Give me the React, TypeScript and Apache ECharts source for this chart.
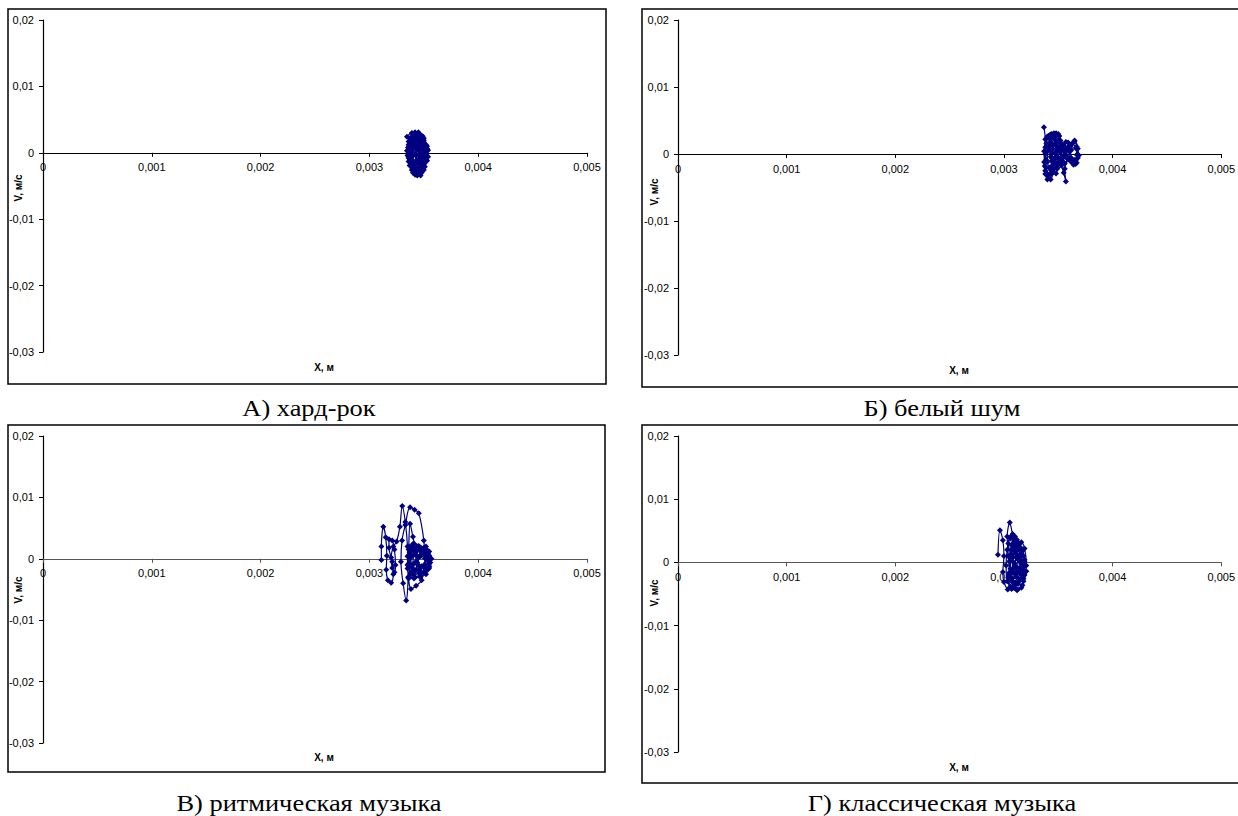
import React, { useEffect, useRef } from "react";
import * as echarts from "echarts";

// Tick labels
const X_TICK_LABELS = ["0", "0,001", "0,002", "0,003", "0,004", "0,005"];
const Y_TICK_LABELS = ["-0,03", "-0,02", "-0,01", "0", "0,01", "0,02"];

const PANEL_TITLES = ["А) хард-рок", "Б) белый шум", "В) ритмическая музыка", "Г) классическая музыка"];
const X_NAME = "X, м";
const Y_NAME = "V, м/с";

// Phase trajectories [x (m), v (m/s)]
const hardRock: number[][] = [
  [0.003345, 0.0024], [0.00339, 0.003], [0.00344, 0.0028], [0.0035, 0.0019], [0.00353, 0.0006],
  [0.00352, -0.001], [0.00348, -0.0024], [0.00343, -0.0031], [0.00339, -0.0022], [0.00336, -0.0008],
  [0.003355, 0.0008], [0.00338, 0.0021], [0.00343, 0.0026], [0.00348, 0.0021], [0.00351, 0.0009],
  [0.003515, -0.0005], [0.00349, -0.0018], [0.00345, -0.0027], [0.00341, -0.0029], [0.00338, -0.0016],
  [0.00337, 0.0001], [0.00339, 0.0015], [0.00342, 0.0031], [0.00347, 0.0027], [0.0035, 0.0015],
  [0.00354, 0.0004], [0.00353, -0.0012], [0.0035, -0.0026], [0.00347, -0.0034], [0.00343, -0.0025],
  [0.0034, -0.0012], [0.00338, 0.0004], [0.0034, 0.0018], [0.00344, 0.0022], [0.00347, 0.0014],
  [0.00349, 0.0001], [0.00348, -0.0013], [0.00346, -0.0021], [0.00342, -0.0018], [0.00339, -0.0006],
  [0.003385, 0.001], [0.00341, 0.0024], [0.00345, 0.0029], [0.00349, 0.0025], [0.00352, 0.0012],
  [0.00352, -0.0003], [0.0035, -0.0016], [0.00346, -0.003], [0.00342, -0.0033], [0.00339, -0.0026],
  [0.00336, -0.0013], [0.003345, 0.0003], [0.00336, 0.0017], [0.0034, 0.0027], [0.00345, 0.0024],
  [0.00349, 0.0008], [0.0035, -0.0007], [0.00347, -0.0019], [0.00343, -0.0023], [0.0034, -0.0014],
  [0.00339, 0.0], [0.00341, 0.0012], [0.00344, 0.0017], [0.00347, 0.001], [0.00348, -0.0004],
  [0.00341, 0.002], [0.00344, 0.0011], [0.00346, -0.0002], [0.00344, -0.0015], [0.00341, -0.0022],
  [0.00338, -0.001], [0.00339, 0.0006], [0.00342, 0.0016], [0.00346, 0.0019], [0.00349, 0.0013],
  [0.0035, 0.0002], [0.00349, -0.0009], [0.00346, -0.0016], [0.00343, -0.0012], [0.00342, -0.0001],
  [0.00343, 0.0009], [0.00346, 0.0012], [0.00348, 0.0005], [0.00347, -0.0006], [0.00345, -0.001],
  [0.00343, -0.0004], [0.00344, 0.0005], [0.00337, 0.0022], [0.0034, 0.0029], [0.00345, 0.0031],
  [0.0035, 0.0022], [0.00353, 0.001], [0.00354, -0.0006], [0.00351, -0.0021], [0.00348, -0.003],
  [0.00344, -0.0034], [0.0034, -0.003], [0.00337, -0.0019], [0.00335, -0.0004], [0.00336, 0.0012],
  [0.00339, 0.0023], [0.00342, 0.002], [0.00345, 0.0015], [0.00348, 0.0017], [0.00351, 0.0006],
  [0.00351, -0.0008], [0.00348, -0.002], [0.00345, -0.0024], [0.00341, -0.002], [0.0034, -0.0004],
  [0.00342, 0.0007], [0.00345, 0.0004], [0.00346, 0.0008],
];

const whiteNoise: number[][] = [
  [0.003368, 0.004], [0.00338, 0.0022], [0.00337, 0.0004], [0.003375, -0.0018], [0.0034, -0.003],
  [0.00343, -0.0038], [0.00345, -0.0025], [0.00344, -0.0006], [0.00342, 0.0012], [0.00341, 0.0027],
  [0.00344, 0.003], [0.00347, 0.0021], [0.00348, 0.0004], [0.00346, -0.0014], [0.00343, -0.0024],
  [0.00341, -0.0031], [0.00339, -0.002], [0.00338, 0.0], [0.00339, 0.0016], [0.00342, 0.0028],
  [0.00346, 0.0031], [0.0035, 0.003], [0.00352, 0.002], [0.00353, 0.0006], [0.00352, -0.001],
  [0.00355, -0.0028], [0.00357, -0.0041], [0.00356, -0.0022], [0.00359, -0.0008], [0.00362, 0.0006],
  [0.00365, 0.0019], [0.00367, 0.0011], [0.00369, -0.0002], [0.00367, -0.0013], [0.00364, -0.0016],
  [0.00361, -0.001], [0.0036, 0.0004], [0.00362, 0.0014], [0.00365, 0.002], [0.00368, 0.0008],
  [0.00368, -0.0006], [0.00366, -0.0015], [0.00362, -0.0012], [0.00358, -0.0004], [0.00356, 0.001],
  [0.00357, 0.0018], [0.0036, 0.0012], [0.00357, -0.0001], [0.00354, -0.0011], [0.0035, -0.0016],
  [0.00348, -0.0029], [0.00346, -0.002], [0.00347, -0.0005], [0.00349, 0.0011], [0.00351, 0.0027],
  [0.00348, 0.0031], [0.00344, 0.0026], [0.00342, 0.0012], [0.00343, -0.0004], [0.00345, -0.0017],
  [0.00349, -0.0022], [0.00353, -0.0017], [0.00355, -0.0004], [0.00354, 0.0012], [0.00352, 0.0017],
  [0.0035, 0.0006], [0.00347, -0.0008], [0.0034, -0.0038], [0.00338, -0.0025], [0.00339, -0.0009],
  [0.00341, 0.0006], [0.00343, 0.0022], [0.00345, 0.0008], [0.00344, -0.001], [0.00342, -0.002],
  [0.0034, -0.0012], [0.0034, 0.0004], [0.00343, 0.0018], [0.00347, 0.0026], [0.0035, 0.0021],
  [0.00351, 0.0009], [0.0035, -0.0005], [0.00348, -0.0014], [0.00345, -0.0012], [0.00344, 0.0001],
  [0.00346, 0.0014], [0.00349, 0.0018], [0.00353, 0.0014], [0.00356, 0.0005], [0.00358, -0.0006],
  [0.00356, -0.0014], [0.00353, -0.0009], [0.00352, 0.0003], [0.00355, 0.0013], [0.00359, 0.0017],
  [0.00363, 0.0016], [0.00366, 0.0009], [0.00367, -0.0001], [0.00365, -0.0009], [0.00362, -0.0006],
  [0.00361, 0.0005], [0.00358, 0.0008], [0.00355, -0.0002], [0.00351, -0.001], [0.00347, -0.002],
  [0.00344, -0.003], [0.00341, -0.0036], [0.00338, -0.003], [0.00337, -0.0012], [0.00338, 0.001],
  [0.0034, 0.0026], [0.00343, 0.0029], [0.00346, 0.0024], [0.00348, 0.0013], [0.00347, 0.0001],
];

const rhythmic: number[][] = [
  [0.00311, -0.0002], [0.00311, 0.002], [0.003128, 0.0052], [0.00315, 0.0035], [0.00316, 0.0005],
  [0.003155, -0.0018], [0.00317, -0.0035], [0.0032, -0.0039], [0.00322, -0.0025], [0.00321, -0.0005],
  [0.00318, 0.0018], [0.00318, 0.0032], [0.00321, 0.003], [0.00323, 0.0015], [0.00324, -0.001],
  [0.00323, -0.0022], [0.00321, -0.0015], [0.0032, 0.0002], [0.00322, 0.002], [0.00325, 0.0028],
  [0.00328, 0.0052], [0.003302, 0.0086], [0.00333, 0.006], [0.00335, 0.002], [0.003355, -0.003],
  [0.003338, -0.0068], [0.00331, -0.004], [0.00329, -0.0005], [0.0033, 0.003], [0.00333, 0.0055],
  [0.003374, 0.0084], [0.003415, 0.008], [0.003454, 0.0074], [0.0035, 0.003], [0.00351, -0.001],
  [0.00348, -0.0035], [0.003429, -0.0044], [0.003382, -0.0049], [0.00336, -0.0032], [0.00335, -0.001],
  [0.00336, 0.0015], [0.003374, 0.0057], [0.0034, 0.0036], [0.00343, 0.0018], [0.00346, 0.002],
  [0.0035, 0.0015], [0.00354, 0.0002], [0.00355, -0.0015], [0.00352, -0.0025], [0.00347, -0.0028],
  [0.00342, -0.003], [0.00338, -0.0024], [0.00336, -0.0008], [0.00337, 0.001], [0.00341, 0.0025],
  [0.00345, 0.0021], [0.00349, 0.0012], [0.00353, 0.0004], [0.00355, -0.0008], [0.00352, -0.0018],
  [0.00347, -0.0022], [0.00341, -0.0026], [0.00339, -0.0014], [0.00338, 0.0004], [0.0034, 0.0018],
  [0.00344, 0.002], [0.00348, 0.0017], [0.00352, 0.0009], [0.00354, -0.0004], [0.00351, -0.0014],
  [0.00346, -0.0018], [0.00342, -0.002], [0.0034, -0.0009], [0.00341, 0.0007], [0.00344, 0.0013],
  [0.00348, 0.001], [0.00351, 0.0001], [0.0035, -0.0011], [0.00346, -0.0013], [0.00343, -0.0007],
  [0.00344, 0.0004], [0.00337, 0.002], [0.0034, 0.0014], [0.00343, 0.0006], [0.00342, -0.0006],
  [0.0034, -0.0016], [0.00338, -0.0022], [0.00337, -0.0012], [0.00338, 0.0002], [0.00342, 0.0012],
  [0.00346, 0.0016], [0.0035, 0.0018], [0.00353, 0.0014], [0.00355, 0.0005], [0.00356, -0.0006],
  [0.00354, -0.0017], [0.0035, -0.0022], [0.00346, -0.0024], [0.00343, -0.0018], [0.00344, -0.0006],
  [0.00347, 0.0004], [0.0035, 0.0008], [0.00352, 0.0001], [0.00351, -0.0009], [0.00348, -0.0012],
  [0.00345, -0.001], [0.00345, 0.0002], [0.00348, 0.0014], [0.00352, 0.002], [0.00355, 0.0012],
  [0.00357, 0.0], [0.00355, -0.0012], [0.00351, -0.002], [0.00346, -0.0029], [0.00341, -0.0032],
  [0.00337, -0.003], [0.00335, -0.0016], [0.00335, 0.0004], [0.00337, 0.0018], [0.0034, 0.0024],
];

const classical: number[][] = [
  [0.002945, 0.0012], [0.002963, 0.0051], [0.00299, 0.0035], [0.003, 0.001], [0.00299, -0.0015],
  [0.003, -0.0031], [0.003035, -0.0043], [0.00305, -0.002], [0.00304, 0.001], [0.00303, 0.0041],
  [0.003054, 0.0063], [0.00308, 0.0045], [0.003101, 0.0041], [0.00313, 0.003], [0.00316, 0.0015],
  [0.00319, 0.0002], [0.003206, -0.0014], [0.00318, -0.003], [0.003126, -0.0043], [0.00309, -0.0036],
  [0.00306, -0.0018], [0.00305, 0.0008], [0.00307, 0.0027], [0.0031, 0.0035], [0.00314, 0.003],
  [0.00317, 0.0018], [0.00319, 0.0004], [0.00318, -0.0012], [0.00315, -0.0026], [0.00311, -0.0032],
  [0.00308, -0.0025], [0.00306, -0.001], [0.00307, 0.0012], [0.00309, 0.0024], [0.00313, 0.0026],
  [0.00316, 0.0012], [0.00317, -0.0004], [0.00315, -0.0018], [0.00312, -0.0024], [0.00309, -0.0016],
  [0.00308, 0.0002], [0.0031, 0.0017], [0.00313, 0.002], [0.00315, 0.0008], [0.00315, -0.0008],
  [0.00312, -0.0015], [0.0031, -0.0006], [0.00311, 0.0008], [0.00306, 0.0038], [0.00303, 0.002],
  [0.00302, -0.0005], [0.00303, -0.003], [0.00306, -0.0038], [0.0031, -0.004], [0.00313, -0.0034],
  [0.00317, -0.0036], [0.00319, -0.002], [0.003206, -0.0005], [0.00319, 0.0022], [0.00316, 0.0032],
  [0.00311, 0.0033], [0.00309, 0.004], [0.00312, 0.0036], [0.00315, 0.0024], [0.00318, 0.001],
  [0.00319, -0.0006], [0.00317, -0.002], [0.00314, -0.003], [0.0031, -0.0034], [0.00307, -0.003],
  [0.00305, -0.0016], [0.00305, 0.0002], [0.00307, 0.002], [0.0031, 0.0028], [0.00313, 0.0022],
  [0.00315, 0.001], [0.00316, -0.0002], [0.00314, -0.0014], [0.00311, -0.002], [0.00308, -0.0012],
  [0.00308, 0.0008], [0.00311, 0.0014], [0.00313, 0.0004], [0.00312, -0.0008], [0.0031, -0.0002],
  [0.00304, 0.003], [0.00306, 0.004], [0.00309, 0.0032], [0.00312, 0.0012], [0.00318, -0.0026],
  [0.00316, -0.004], [0.00312, -0.0044], [0.00307, -0.0042], [0.00304, -0.0024],
];

const SERIES_DATA = [hardRock, whiteNoise, rhythmic, classical];

// layout (pixels)
const GRIDS = [
  { left: 43, top: 20, width: 544, height: 332 },
  { left: 678, top: 20, width: 545, height: 335 },
  { left: 43, top: 436, width: 544, height: 307 },
  { left: 678, top: 436, width: 545, height: 316 },
];
const FRAMES = [
  { x: 8, y: 9, w: 598, h: 375 },
  { x: 642, y: 9, w: 600, h: 378 },
  { x: 8, y: 425, w: 597, h: 347 },
  { x: 642, y: 425, w: 600, h: 358 },
];
const TITLE_POS = [
  [309, 408], [942, 408], [309, 803], [942, 803],
];
const XNAME_POS = [
  [324, 367], [959, 370], [324, 757], [959, 767],
];
const YNAME_POS = [
  [18, 188], [654, 192], [18, 590], [654, 593],
];
const AXIS_COLORS = ["#000", "#000", "#555", "#555"];

export default function App() {
  const ref = useRef<HTMLDivElement>(null);
  useEffect(() => {
    if (!ref.current) return;
    const chart = echarts.init(ref.current, undefined, { renderer: "svg" });
    const labelFont = { fontFamily: "Liberation Sans, Arial, sans-serif", fontSize: 11, color: "#000" };

    const graphic: any[] = [];
    FRAMES.forEach((f) => {
      graphic.push({
        type: "rect",
        shape: { x: f.x, y: f.y, width: f.w, height: f.h },
        style: { fill: "none", stroke: "#000", lineWidth: 1.5 },
        silent: true,
      });
    });
    PANEL_TITLES.forEach((t, i) => {
      graphic.push({
        type: "text",
        x: TITLE_POS[i][0],
        y: TITLE_POS[i][1],
        scaleX: 1.1,
        style: {
          text: t,
          fontFamily: "Liberation Serif, Times New Roman, serif",
          fontSize: 24,
          fill: "#000",
          textAlign: "center",
          textVerticalAlign: "middle",
          align: "center",
          verticalAlign: "middle",
        },
      });
    });
    XNAME_POS.forEach((p) => {
      graphic.push({
        type: "text",
        x: p[0],
        y: p[1],
        style: {
          text: X_NAME,
          fontFamily: "Liberation Sans, Arial, sans-serif",
          fontSize: 10,
          fontWeight: "bold",
          fill: "#000",
          textAlign: "center",
          textVerticalAlign: "middle",
          align: "center",
          verticalAlign: "middle",
        },
      });
    });
    YNAME_POS.forEach((p) => {
      graphic.push({
        type: "text",
        x: p[0],
        y: p[1],
        rotation: Math.PI / 2,
        style: {
          text: Y_NAME,
          fontFamily: "Liberation Sans, Arial, sans-serif",
          fontSize: 10,
          fontWeight: "bold",
          fill: "#000",
          textAlign: "center",
          textVerticalAlign: "middle",
          align: "center",
          verticalAlign: "middle",
        },
      });
    });

    const option: any = {
      animation: false,
      backgroundColor: "#fff",
      grid: GRIDS.map((g) => ({ ...g, containLabel: false })),
      xAxis: GRIDS.map((g, i) => ({
        gridIndex: i,
        type: "value",
        position: "bottom",
        // move the whole axis (line, ticks, labels) up to v = 0
        offset: -0.6 * g.height,
        min: 0,
        max: 0.005,
        interval: 0.001,
        axisLine: { show: true, onZero: false, lineStyle: { color: AXIS_COLORS[i], width: 1.2 } },
        axisTick: { show: true, length: 4, lineStyle: { color: AXIS_COLORS[i] } },
        axisLabel: {
          ...labelFont,
          margin: 9,
          showMinLabel: true,
          showMaxLabel: true,
          formatter: (v: number) => X_TICK_LABELS[Math.round(v / 0.001)] ?? "",
        },
        splitLine: { show: false },
      })),
      yAxis: GRIDS.map((_, i) => ({
        gridIndex: i,
        type: "value",
        min: -0.03,
        max: 0.02,
        interval: 0.01,
        axisLine: { show: true, onZero: false, lineStyle: { color: "#000", width: 1.2 } },
        axisTick: { show: true, length: 4, lineStyle: { color: "#000" } },
        axisLabel: {
          ...labelFont,
          margin: 9,
          showMinLabel: true,
          showMaxLabel: true,
          formatter: (v: number) => Y_TICK_LABELS[Math.round((v + 0.03) / 0.01)] ?? "",
        },
        splitLine: { show: false },
      })),
      series: SERIES_DATA.map((d, i) => ({
        type: "line",
        xAxisIndex: i,
        yAxisIndex: i,
        data: d,
        smooth: 0.35,
        symbol: "diamond",
        symbolSize: 6,
        showSymbol: true,
        showAllSymbol: true,
        clip: false,
        lineStyle: { color: "#000080", width: 1.2 },
        itemStyle: { color: "#000080" },
        emphasis: { disabled: true },
      })),
      graphic,
    };
    chart.setOption(option);
    return () => chart.dispose();
  }, []);
  return (
    <div
      ref={ref}
      style={{ position: "fixed", left: 0, top: 0, width: 1238, height: 816, background: "#fff" }}
    />
  );
}
